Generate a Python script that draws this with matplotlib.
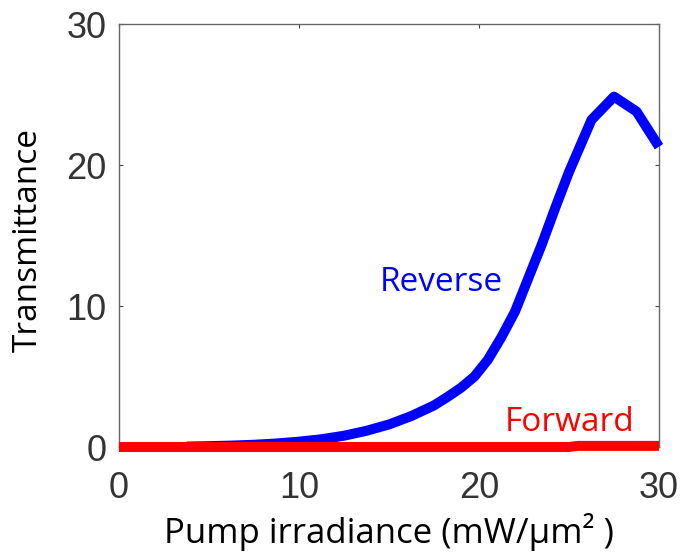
import matplotlib.pyplot as plt

# data
pump = [3.75, 5, 6.25, 7.5, 8.75, 10, 11.25, 12.5, 13.75, 15, 16.25, 17.5,
        18.25, 19, 19.75, 20.5, 21.25, 22, 22.75, 23.5, 24.25, 25,
        26.25, 27.5, 28.75, 30]
reverse = [0.03, 0.06, 0.1, 0.16, 0.25, 0.38, 0.55, 0.8, 1.15, 1.6, 2.2, 2.95,
           3.55, 4.2, 5.0, 6.2, 7.8, 9.6, 12.0, 14.4, 17.0, 19.5,
           23.2, 24.85, 23.8, 21.3]
pump_fwd = [0, 5, 10, 15, 20, 25, 25.5, 30]
forward = [0, 0, 0, 0, 0, 0, 0.08, 0.08]

xticks = [0, 10, 20, 30]
yticks = [0, 10, 20, 30]

fig = plt.figure(figsize=(6.83, 5.52), dpi=100)
ax = fig.add_axes([0.1742, 0.1902, 0.7906, 0.7663])

ax.plot(pump, reverse, color='#0000ff', linewidth=7.2,
        solid_capstyle='butt', clip_on=False, zorder=3)
ax.plot(pump_fwd, forward, color='#ff0000', linewidth=7.2,
        solid_capstyle='butt', clip_on=False, zorder=4)

ax.text(17.9, 11.7, 'Reverse', color='#0000ff', fontsize=24,
        family='Open Sans', ha='center', va='center')
ax.text(25.05, 1.75, 'Forward', color='#ff0000', fontsize=24,
        family='Open Sans', ha='center', va='center')

ax.set_xlim(0, 30)
ax.set_ylim(0, 30)
ax.set_xticks(xticks)
ax.set_yticks(yticks)
ax.tick_params(direction='in', length=3, width=0.8, color='#444444',
               top=True, right=True, labelsize=26, labelcolor='#333333')
ax.tick_params(axis='x', pad=17)
ax.tick_params(axis='y', pad=9)
for lab in ax.get_xticklabels() + ax.get_yticklabels():
    lab.set_family('Liberation Sans')
for sp in ax.spines.values():
    sp.set_color('#666666')
    sp.set_linewidth(1.0)

ax.set_xlabel('Pump irradiance (mW/μm² )', fontsize=25, family='Open Sans',
              labelpad=5)
ax.set_ylabel('Transmittance', fontsize=24, family='Open Sans')
ax.yaxis.set_label_coords(-0.138, 0.49)

fig.savefig('out.png', dpi=100)
